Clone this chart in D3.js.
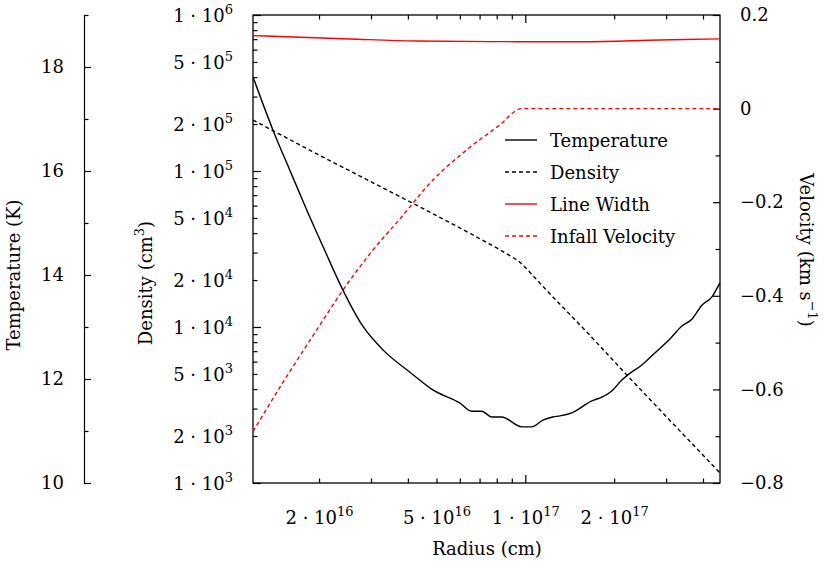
<!DOCTYPE html>
<html>
<head>
<meta charset="utf-8">
<script src="https://cdn.jsdelivr.net/npm/d3@7"></script>
<style>
  body { margin: 0; background: #fff; }
  svg text { font-family: "DejaVu Serif", "Liberation Serif", serif; font-size: 18px; fill: #000; }
</style>
</head>
<body>
<div id="chart"></div>
<script>
// values
const tempR = [1.19e16, 1.39e16, 1.585e16, 1.81e16, 2.08e16, 2.40e16, 2.80e16, 3.28e16, 4.05e16, 4.84e16,
  5.97e16, 6.56e16, 7.09e16, 7.67e16, 8.29e16, 9.69e16, 1.048e17, 1.142e17, 1.234e17, 1.304e17, 1.432e17,
  1.674e17, 1.81e17, 1.956e17, 2.115e17, 2.217e17, 2.473e17, 2.737e17, 3.077e17, 3.38e17, 3.654e17,
  3.951e17, 4.272e17, 4.546e17];
const tempK = [17.81, 16.79, 16.02, 15.25, 14.48, 13.71, 13.02, 12.56, 12.13, 11.79,
  11.54, 11.38, 11.38, 11.27, 11.27, 11.08, 11.08, 11.21, 11.27, 11.29, 11.35,
  11.58, 11.65, 11.77, 11.98, 12.08, 12.27, 12.50, 12.77, 13.02, 13.15,
  13.42, 13.58, 13.85];

const densR = [1.19e16, 2e16, 4.05e16, 6e16, 8e16, 9.4e16, 1e17, 1.2e17, 1.6e17, 2.2e17, 3e17, 4.55e17];
const densN = [2.12e5, 1.26e5, 6.35e4, 4.3e4, 3.2e4, 2.67e4, 2.39e4, 1.65e4, 9.4e3, 4.92e3, 2.65e3, 1.16e3];

const widthR = [1.19e16, 2.53e16, 4.27e16, 9.3e16, 1.56e17, 2.846e17, 4.55e17];
const widthV = [0.156, 0.1487, 0.1444, 0.143, 0.143, 0.1466, 0.149];

const infallR = [1.19e16, 1.50e16, 1.956e16, 2.40e16, 3.0e16, 3.74e16, 4.84e16, 6.31e16, 8.16e16, 9.69e16, 4.55e17];
const infallV = [-0.690, -0.586, -0.473, -0.388, -0.306, -0.236, -0.153, -0.088, -0.035, 0, 0];

const xLabels = [[2e16, 2, 16], [5e16, 5, 16], [1e17, 1, 17], [2e17, 2, 17]];
const densLabels = [[1e3, 1, 3], [2e3, 2, 3], [5e3, 5, 3], [1e4, 1, 4], [2e4, 2, 4], [5e4, 5, 4],
  [1e5, 1, 5], [2e5, 2, 5], [5e5, 5, 5], [1e6, 1, 6]];
const tempMajor = [10, 12, 14, 16, 18];
const tempMinor = [11, 13, 15, 17, 19];
const velMajor = [-0.8, -0.6, -0.4, -0.2, 0, 0.2];
const velMinor = [-0.7, -0.5, -0.3, -0.1, 0.1];

const legendItems = [
  { name: 'Temperature', color: '#000', dash: null },
  { name: 'Density', color: '#000', dash: '4,3' },
  { name: 'Line Width', color: '#f00', dash: null },
  { name: 'Infall Velocity', color: '#f00', dash: '4,3' }
];

const W = 829, H = 565;
const L = 253, R = 720, T = 15, B = 483;

const svg = d3.select('#chart').append('svg').attr('width', W).attr('height', H);

const x = d3.scaleLog().domain([1.19e16, 4.55e17]).range([L, R]);
const yDen = d3.scaleLog().domain([1e3, 1e6]).range([B, T]);
const yT = d3.scaleLinear().domain([10, 19]).range([B, T]);
const yV = d3.scaleLinear().domain([-0.8, 0.2]).range([B, T]);

const sci = (sel, m, e) => {
  sel.text(m + ' · 10');
  sel.append('tspan').attr('dy', -8).style('font-size', '13px').text(e);
};

const styleAxis = g => {
  g.attr('font-family', null).attr('font-size', null);
  g.selectAll('line').attr('stroke', '#000').attr('stroke-width', 1.2);
  g.selectAll('path').attr('stroke', '#000').attr('stroke-width', 1.2);
};

// x minor ticks (bottom and top)
const xMinor = [];
[1e16, 1e17].forEach(d => { for (let k = 2; k <= 9; k++) if (k * d < 4.55e17 && k * d > 1.19e16) xMinor.push(k * d); });
[[B, -1], [T, 1]].forEach(([y0, dir]) => {
  svg.append('g').selectAll('line').data(xMinor).join('line')
    .attr('x1', d => x(d)).attr('x2', d => x(d))
    .attr('y1', y0).attr('y2', y0 + dir * 4.5)
    .attr('stroke', '#000').attr('stroke-width', 1.2);
  svg.append('line').attr('x1', x(1e17)).attr('x2', x(1e17))
    .attr('y1', y0).attr('y2', y0 + dir * 8)
    .attr('stroke', '#000').attr('stroke-width', 1.2);
});

svg.append('g').selectAll('text').data(xLabels).join('text')
  .attr('x', d => x(d[0])).attr('y', 524).attr('text-anchor', 'middle')
  .each(function(d) { sci(d3.select(this), d[1], d[2]); });

// density axis, ticks inside on left border
const densMinor = [];
[1e3, 1e4, 1e5].forEach(d => { for (let k = 2; k <= 9; k++) densMinor.push(k * d); });
svg.append('g').attr('transform', `translate(${L},0)`)
  .call(d3.axisLeft(yDen).tickValues(densMinor).tickSize(-4.5).tickFormat(''))
  .call(g => g.select('.domain').remove()).call(styleAxis);
svg.append('g').attr('transform', `translate(${L},0)`)
  .call(d3.axisLeft(yDen).tickValues([1e3, 1e4, 1e5, 1e6]).tickSize(-8).tickFormat(''))
  .call(g => g.select('.domain').remove()).call(styleAxis);
svg.append('g').selectAll('text').data(densLabels).join('text')
  .attr('x', 233).attr('y', d => yDen(d[0]) + 7).attr('text-anchor', 'end')
  .each(function(d) { sci(d3.select(this), d[1], d[2]); });

// temperature axis, standalone on the far left
svg.append('g').attr('transform', 'translate(84,0)')
  .call(d3.axisLeft(yT).tickValues(tempMinor).tickSize(-4.5).tickFormat(''))
  .call(g => g.select('.domain').remove()).call(styleAxis);
svg.append('g').attr('transform', 'translate(84,0)')
  .call(d3.axisLeft(yT).tickValues(tempMajor).tickSize(-7).tickSizeOuter(0).tickPadding(20))
  .call(styleAxis);

// velocity axis on right border
svg.append('g').attr('transform', `translate(${R},0)`)
  .call(d3.axisRight(yV).tickValues(velMinor).tickSize(-4.5).tickFormat(''))
  .call(g => g.select('.domain').remove()).call(styleAxis);
svg.append('g').attr('transform', `translate(${R},0)`)
  .call(d3.axisRight(yV).tickValues(velMajor).tickSize(-7).tickPadding(20)
    .tickFormat(d => Math.abs(d) < 1e-9 ? '0' : d3.format('.1f')(d)))
  .call(g => g.select('.domain').remove()).call(styleAxis);

// border
svg.append('rect').attr('x', L).attr('y', T).attr('width', R - L).attr('height', B - T)
  .attr('fill', 'none').attr('stroke', '#000').attr('stroke-width', 1.3);

// curves
const plot = svg.append('g');
const lineT = d3.line().curve(d3.curveMonotoneX).x(d => x(d[0])).y(d => yT(d[1]));
const lineD = d3.line().x(d => x(d[0])).y(d => yDen(d[1]));
const lineV = d3.line().curve(d3.curveMonotoneX).x(d => x(d[0])).y(d => yV(d[1]));

plot.append('path').datum(densR.map((r, i) => [r, densN[i]])).attr('d', lineD)
  .attr('fill', 'none').attr('stroke', '#000').attr('stroke-width', 1.4).attr('stroke-dasharray', '4,3');
plot.append('path').datum(infallR.map((r, i) => [r, infallV[i]])).attr('d', lineV)
  .attr('fill', 'none').attr('stroke', '#f00').attr('stroke-width', 1.4).attr('stroke-dasharray', '4,3');
plot.append('path').datum(widthR.map((r, i) => [r, widthV[i]])).attr('d', lineV)
  .attr('fill', 'none').attr('stroke', '#f00').attr('stroke-width', 1.4);
plot.append('path').datum(tempR.map((r, i) => [r, tempK[i]])).attr('d', lineT)
  .attr('fill', 'none').attr('stroke', '#000').attr('stroke-width', 1.4);

// legend
const leg = svg.append('g').selectAll('g').data(legendItems).join('g')
  .attr('transform', (d, i) => `translate(505,${140 + i * 32})`);
leg.append('line').attr('x1', 0).attr('x2', 32)
  .attr('stroke', d => d.color).attr('stroke-width', 1.4)
  .attr('stroke-dasharray', d => d.dash);
leg.append('text').attr('x', 45).attr('y', 7).text(d => d.name);

// axis titles
svg.append('text').attr('x', 487).attr('y', 555).attr('text-anchor', 'middle').text('Radius (cm)');
svg.append('text').attr('transform', 'translate(20,275) rotate(-90)').attr('text-anchor', 'middle')
  .text('Temperature (K)');
const dl = svg.append('text').attr('transform', 'translate(152,283) rotate(-90)').attr('text-anchor', 'middle')
  .text('Density (cm');
dl.append('tspan').attr('dy', -8).style('font-size', '13px').text('3');
dl.append('tspan').attr('dy', 8).text(')');
const vl = svg.append('text').attr('transform', 'translate(800,250) rotate(90)').attr('text-anchor', 'middle')
  .text('Velocity (km s');
vl.append('tspan').attr('dy', -8).style('font-size', '13px').text('−1');
vl.append('tspan').attr('dy', 8).text(')');
</script>
</body>
</html>
